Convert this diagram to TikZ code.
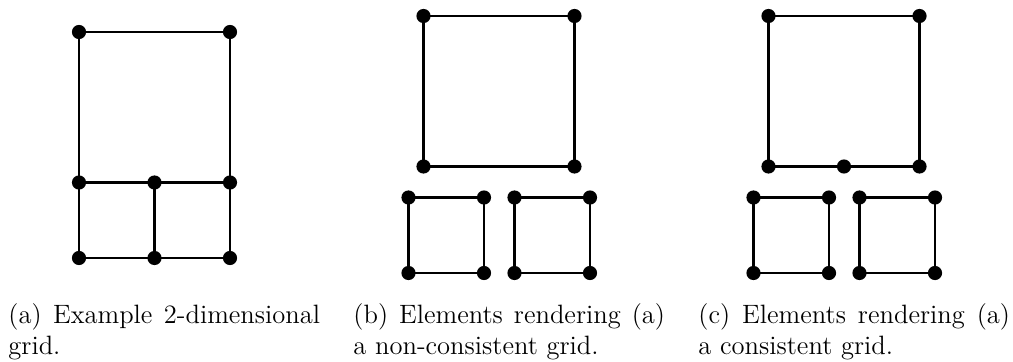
\documentclass[tikz,border=0pt]{standalone}
\begin{document}
\begin{tikzpicture}[x=0.4444pt,y=-0.4444pt,
  gdot/.style={circle,fill=black,inner sep=0pt,minimum size=6.3pt},
  gridline/.style={line width=0.95pt,black},
  captext/.style={anchor=base west,inner sep=0pt,font=\fontsize{11.8}{14.2}\selectfont}]
\useasboundingbox (0,0) rectangle (1013,361);
% (a)
\node[gdot] (a1) at (79,32) {};
\node[gdot] (a2) at (230,32) {};
\node[gdot] (a3) at (79,182.5) {};
\node[gdot] (a4) at (154.5,182.5) {};
\node[gdot] (a5) at (230,182.5) {};
\node[gdot] (a6) at (79,258) {};
\node[gdot] (a7) at (154.5,258) {};
\node[gdot] (a8) at (230,258) {};
\draw[gridline] (a1.center) -- (a2.center) -- (a5.center) -- (a8.center) -- (a7.center) -- (a6.center) -- (a3.center) -- (a1.center);
\draw[gridline] (a3.center) -- (a4.center) -- (a5.center);
\draw[gridline] (a4.center) -- (a7.center);
% (b)
\node[gdot] (b1) at (423.5,16) {};
\node[gdot] (b2) at (574.5,16) {};
\node[gdot] (b3) at (423.5,166.5) {};
\node[gdot] (b4) at (574.5,166.5) {};
\draw[gridline] (b1.center) -- (b2.center) -- (b4.center) -- (b3.center) -- cycle;
\node[gdot] (c1) at (408.5,197.5) {};
\node[gdot] (c2) at (484,197.5) {};
\node[gdot] (c3) at (408.5,273) {};
\node[gdot] (c4) at (484,273) {};
\draw[gridline] (c1.center) -- (c2.center) -- (c4.center) -- (c3.center) -- cycle;
\node[gdot] (d1) at (514.5,197.5) {};
\node[gdot] (d2) at (590,197.5) {};
\node[gdot] (d3) at (514.5,273) {};
\node[gdot] (d4) at (590,273) {};
\draw[gridline] (d1.center) -- (d2.center) -- (d4.center) -- (d3.center) -- cycle;
% (c)
\node[gdot] (e1) at (768.5,16) {};
\node[gdot] (e2) at (919.5,16) {};
\node[gdot] (e3) at (768.5,166.5) {};
\node[gdot] (em) at (844,166.5) {};
\node[gdot] (e4) at (919.5,166.5) {};
\draw[gridline] (e1.center) -- (e2.center) -- (e4.center) -- (em.center) -- (e3.center) -- cycle;
\node[gdot] (f1) at (753.5,197.5) {};
\node[gdot] (f2) at (829,197.5) {};
\node[gdot] (f3) at (753.5,273) {};
\node[gdot] (f4) at (829,273) {};
\draw[gridline] (f1.center) -- (f2.center) -- (f4.center) -- (f3.center) -- cycle;
\node[gdot] (g1) at (859.5,197.5) {};
\node[gdot] (g2) at (935,197.5) {};
\node[gdot] (g3) at (859.5,273) {};
\node[gdot] (g4) at (935,273) {};
\draw[gridline] (g1.center) -- (g2.center) -- (g4.center) -- (g3.center) -- cycle;
% captions
\node[captext] (capa1) at (8,323) {\makebox[138.5pt][s]{(a) Example 2-dimensional}};
\node[captext] (capa2) at (8,354) {grid.};
\node[captext] (capb1) at (353,323) {\makebox[138.5pt][s]{(b) Elements rendering (a)}};
\node[captext] (capb2) at (353,354) {a non-consistent grid.};
\node[captext] (capc1) at (698,323) {\makebox[138.5pt][s]{(c) Elements rendering (a)}};
\node[captext] (capc2) at (698,354) {a consistent grid.};
\end{tikzpicture}
\end{document}
